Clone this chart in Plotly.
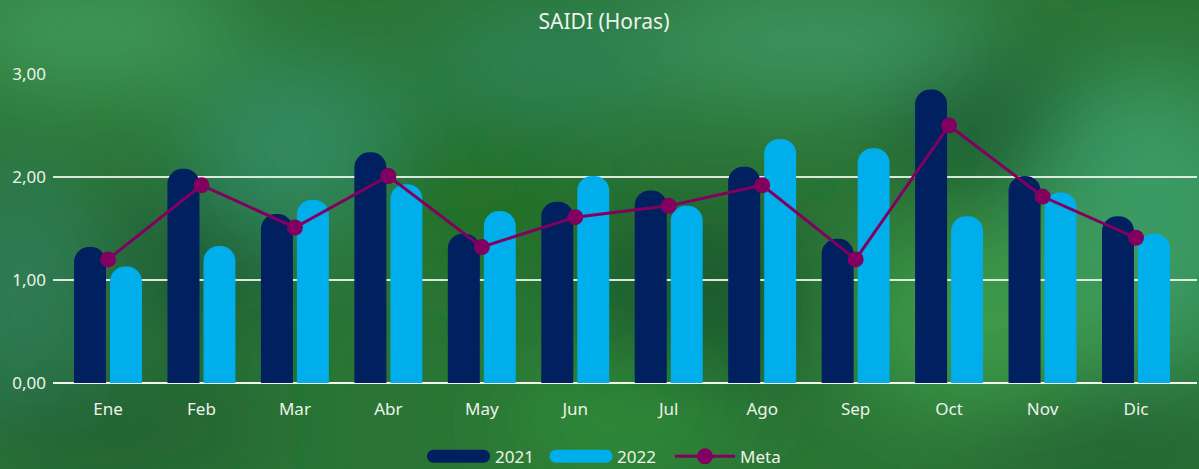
import base64
import plotly.graph_objects as go

meses = ["Ene", "Feb", "Mar", "Abr", "May", "Jun", "Jul", "Ago", "Sep", "Oct", "Nov", "Dic"]
saidi_2021 = [1.32, 2.08, 1.64, 2.24, 1.45, 1.76, 1.87, 2.10, 1.40, 2.85, 2.01, 1.62]
saidi_2022 = [1.13, 1.33, 1.78, 1.93, 1.67, 2.01, 1.72, 2.37, 2.28, 1.62, 1.85, 1.45]
meta = [1.20, 1.92, 1.51, 2.01, 1.32, 1.61, 1.72, 1.92, 1.20, 2.50, 1.81, 1.41]
y_ticks = [0, 1, 2, 3]

C2021, C2022, CMETA = "#002060", "#00AEEB", "#820060"

W, H = 1199, 469
L, R, T, B = 53, 1197, 74, 382.7

svg = f"""<svg xmlns='http://www.w3.org/2000/svg' width='{W}' height='{H}' viewBox='0 0 {W} {H}'>
<defs><filter id='b' x='-50%' y='-50%' width='200%' height='200%'><feGaussianBlur stdDeviation='45'/></filter></defs>
<rect width='{W}' height='{H}' fill='#2a7535'/>
<g filter='url(#b)'>
<ellipse cx='90' cy='30' rx='150' ry='60' fill='#3f9a58'/>
<ellipse cx='20' cy='300' rx='80' ry='150' fill='#2f7a55'/>
<ellipse cx='200' cy='260' rx='90' ry='70' fill='#1e5a30'/>
<ellipse cx='300' cy='150' rx='110' ry='90' fill='#338a60'/>
<ellipse cx='560' cy='60' rx='140' ry='50' fill='#2f8358'/>
<ellipse cx='480' cy='200' rx='120' ry='70' fill='#236f28'/>
<ellipse cx='820' cy='40' rx='180' ry='60' fill='#3d9460'/>
<ellipse cx='700' cy='300' rx='120' ry='90' fill='#1e5a2e'/>
<ellipse cx='620' cy='420' rx='120' ry='60' fill='#2f8a38'/>
<ellipse cx='1000' cy='130' rx='120' ry='70' fill='#1f5e30'/>
<ellipse cx='1150' cy='220' rx='120' ry='150' fill='#3b9a64'/>
<ellipse cx='980' cy='320' rx='130' ry='90' fill='#3e9a48'/>
<ellipse cx='120' cy='430' rx='160' ry='50' fill='#236030'/>
<ellipse cx='1100' cy='440' rx='150' ry='40' fill='#245e30'/>
</g>
</svg>"""
bg_uri = "data:image/svg+xml;base64," + base64.b64encode(svg.encode()).decode()

fig = go.Figure()
fig.add_trace(go.Bar(x=meses, y=saidi_2021, name="2021", marker=dict(color=C2021, line_width=0)))
fig.add_trace(go.Bar(x=meses, y=saidi_2022, name="2022", marker=dict(color=C2022, line_width=0)))
fig.add_trace(go.Scatter(x=meses, y=meta, name="Meta", mode="lines+markers",
                         line=dict(color=CMETA, width=3),
                         marker=dict(color=CMETA, size=16)))

pw, ph = R - L, B - T
n = len(meses)
spacing = 93.45
x0 = -(108 - L) / spacing
x1 = (n - 1) + (R - 1136) / spacing

def px(x):
    return (x - L) / pw

def py(y):
    return (B - y) / ph

txt = "#EEF3EA"

# custom legend (pill symbols like the reference)
def pill(cx, cy, w, h, color):
    r = h / 2
    a = w / 2 - r
    k = r * 0.5523
    path = (f"M {-a},{-r} L {a},{-r} C {a + k},{-r} {a + r},{-k} {a + r},0 "
            f"C {a + r},{k} {a + k},{r} {a},{r} L {-a},{r} "
            f"C {-a - k},{r} {-a - r},{k} {-a - r},0 C {-a - r},{-k} {-a - k},{-r} {-a},{-r} Z")
    return dict(type="path", xref="paper", yref="paper", xsizemode="pixel", ysizemode="pixel",
                xanchor=px(cx), yanchor=py(cy), path=path, fillcolor=color, line_width=0)

LY = 456
shapes = [
    pill(458.5, LY, 63, 13, C2021),
    pill(581, LY, 63, 13, C2022),
    dict(type="line", xref="paper", yref="paper", x0=px(675), x1=px(735), y0=py(LY), y1=py(LY),
         line=dict(color=CMETA, width=3)),
    dict(type="circle", xref="paper", yref="paper", xsizemode="pixel", ysizemode="pixel",
         xanchor=px(705), yanchor=py(LY), x0=-8, x1=8, y0=-8, y1=8, fillcolor=CMETA, line_width=0),
]
annotations = [
    dict(text=name, x=px(xl), y=py(LY), xref="paper", yref="paper", xanchor="left", yanchor="middle",
         showarrow=False, font=dict(size=17, color=txt))
    for name, xl in [("2021", 493), ("2022", 615), ("Meta", 738)]
]

fig.update_layout(
    width=W, height=H,
    margin=dict(l=L, r=W - R, t=T, b=H - B, autoexpand=False),
    paper_bgcolor="#2a7535", plot_bgcolor="rgba(0,0,0,0)",
    separators=", ",
    font=dict(family="Noto Sans, Open Sans, sans-serif", color=txt, size=17),
    title=dict(text="SAIDI (Horas)", x=604 / W, xanchor="center", y=1 - 22 / H, yanchor="middle",
               font=dict(size=21, color=txt)),
    barmode="group", bargap=0.23, bargroupgap=0.111, barcornerradius=16,
    xaxis=dict(range=[x0, x1], showgrid=False, zeroline=False, showline=False, ticks="",
               ticklabelstandoff=14, tickfont=dict(size=17, color=txt)),
    yaxis=dict(range=[0, 3], tickvals=y_ticks, tickformat=".2f", showgrid=True,
               gridcolor="rgba(240,245,235,0.9)", gridwidth=1.5, zeroline=True,
               zerolinecolor="#F2F5EE", zerolinewidth=2, ticks="", ticklabelstandoff=6,
               tickfont=dict(size=17, color=txt)),
    showlegend=False,
    shapes=shapes,
    annotations=annotations,
    images=[dict(source=bg_uri, xref="paper", yref="paper", x=-L / pw, y=1 + T / ph,
                 sizex=W / pw, sizey=H / ph, sizing="stretch", xanchor="left", yanchor="top",
                 layer="below")],
)
fig.write_html("out.html", config={"displayModeBar": False},
               post_script="document.body.style.margin='0';")
